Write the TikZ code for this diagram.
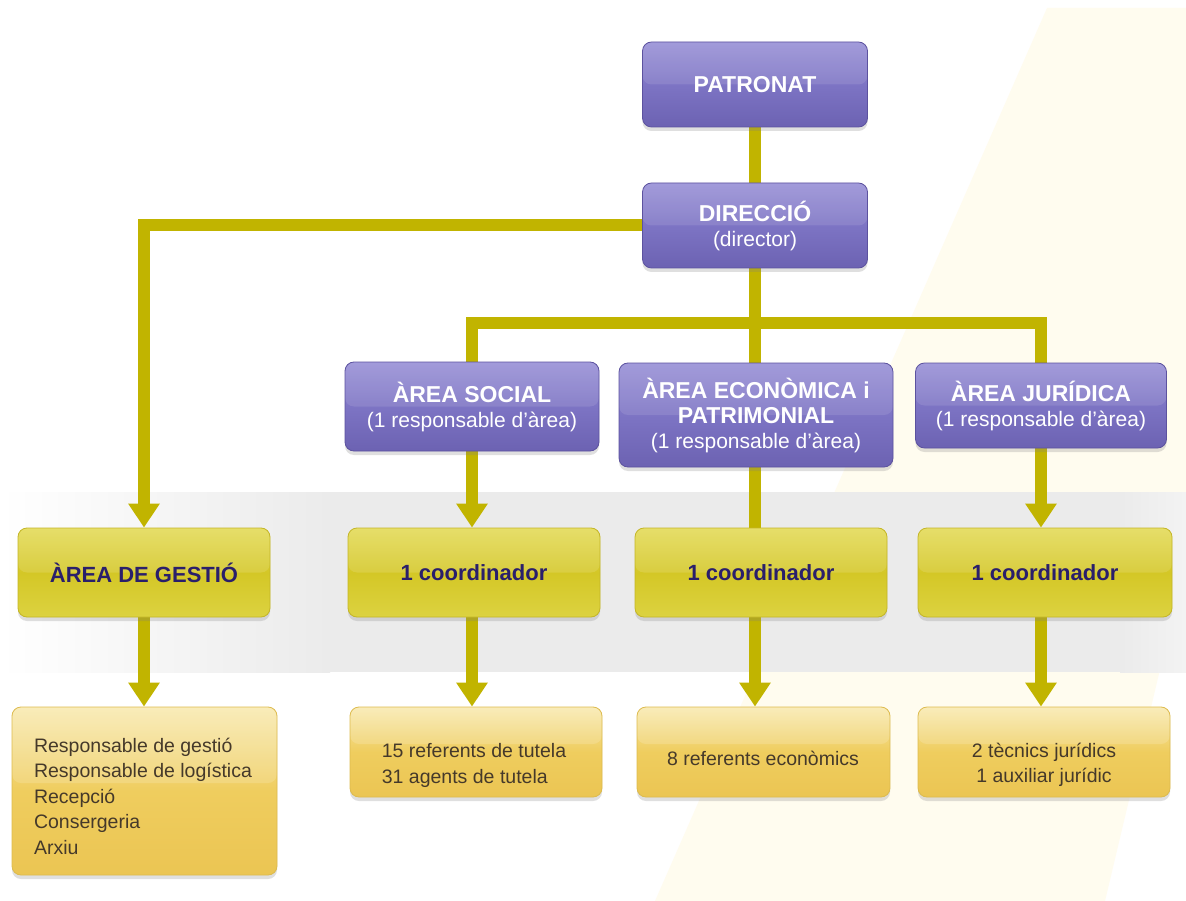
\documentclass[tikz,border=0pt]{standalone}
\usepackage{fontspec}
\setmainfont{Liberation Sans}
\usetikzlibrary{arrows.meta,shadows}
\definecolor{connc}{HTML}{C1B400}
\definecolor{pTop}{HTML}{9890D6}
\definecolor{pMid}{HTML}{7D74C4}
\definecolor{pBot}{HTML}{6C62B2}
\definecolor{pEdge}{HTML}{5C529F}
\definecolor{cTop}{HTML}{E3DA55}
\definecolor{cMid}{HTML}{D4C726}
\definecolor{cBot}{HTML}{DCD240}
\definecolor{cEdge}{HTML}{C4B626}
\definecolor{cText}{HTML}{2A1F6B}
\definecolor{bTop}{HTML}{F8E9AE}
\definecolor{bMid}{HTML}{EFCD5E}
\definecolor{bBot}{HTML}{EBC553}
\definecolor{bEdge}{HTML}{DDBB4E}
\definecolor{bText}{HTML}{45392A}
\definecolor{bandgrey}{HTML}{EBEBEB}
\definecolor{cream}{HTML}{FFFCEF}
\pgfdeclarelayer{bg}
\pgfsetlayers{bg,main}
\tikzset{
  conn/.style={draw=connc, line width=12pt, line join=miter},
  arr/.style={conn, -{Triangle[width=30pt,length=24pt]}},
  boxbase/.style={rounded corners=9pt, line width=0.8pt, inner sep=0pt, align=center,
    drop shadow={shadow xshift=0pt, shadow yshift=-4pt, opacity=0.25}},
  pbox/.style={boxbase, draw=pEdge, top color=pTop, bottom color=pBot, middle color=pMid,
    text=white, font=\fontsize{23}{25}\selectfont\bfseries,
    path picture={\fill[white,opacity=0.10] (path picture bounding box.north west) rectangle (path picture bounding box.east);}},
  cbox/.style={boxbase, draw=cEdge, top color=cTop, bottom color=cBot, middle color=cMid,
    text=cText, font=\fontsize{22}{26}\selectfont\bfseries,
    minimum width=252pt, minimum height=89pt,
    path picture={\fill[white,opacity=0.12] (path picture bounding box.north west) rectangle (path picture bounding box.east);}},
  bbox/.style={boxbase, draw=bEdge, top color=bTop, bottom color=bBot, middle color=bMid,
    path picture={\fill[white,opacity=0.15] (path picture bounding box.north west) rectangle ([yshift=8pt]path picture bounding box.east);}},
  btext/.style={text=bText, font=\fontsize{19.5}{25.5}\selectfont, inner sep=0pt}
}
\newcommand{\subt}[1]{{\fontsize{21}{25}\selectfont\mdseries #1}}
\begin{document}
\begin{tikzpicture}[x=1pt,y=-1pt]
\useasboundingbox (0,0) rectangle (1186,901);
% nodes
\node[pbox, minimum width=225pt, minimum height=85pt] (pat) at (755,84.5) {PATRONAT};
\node[pbox, minimum width=225pt, minimum height=85pt] (dir) at (755,225.5) {DIRECCIÓ\\\subt{(director)}};
\node[pbox, minimum width=254pt, minimum height=89pt] (soc) at (472,406.5) {ÀREA SOCIAL\\\subt{(1 responsable d'àrea)}};
\node[pbox, minimum width=274pt, minimum height=104pt] (eco) at (756,415) {ÀREA ECONÒMICA i\\PATRIMONIAL\\\subt{(1 responsable d'àrea)}};
\node[pbox, minimum width=251pt, minimum height=85pt] (jur) at (1041,405.5) {ÀREA JURÍDICA\\\subt{(1 responsable d'àrea)}};

\node[cbox] (gco) at (144,572.5) {ÀREA DE GESTIÓ};
\node[cbox] (sco) at (474,572.5) {1 coordinador};
\node[cbox] (eco2) at (761,572.5) {1 coordinador};
\node[cbox, minimum width=254pt] (jco) at (1045,572.5) {1 coordinador};

\node[bbox, minimum width=265pt, minimum height=168pt] (gbo) at (144.5,791) {};
\node[bbox, minimum width=252pt, minimum height=90pt] (sbo) at (476,752) {};
\node[bbox, minimum width=253pt, minimum height=90pt] (ebo) at (763.5,752) {};
\node[bbox, minimum width=252pt, minimum height=90pt] (jbo) at (1044,752) {};

\node[btext, align=left] (gbt) at (143,796) {Responsable de gestió\\Responsable de logística\\Recepció\\Consergeria\\Arxiu};
\node[btext, align=left] (sbt) at (474,765.5) {15 referents de tutela\\31 agents de tutela};
\node[btext, align=center] (ebt) at (763,758) {8 referents econòmics};
\node[btext, align=center] (jbt) at (1044,765) {2 tècnics jurídics\\1 auxiliar jurídic};

\coordinate (bar) at (755,323);

\begin{pgfonlayer}{bg}
\fill[white] (0,0) rectangle (1186,901);
\fill[cream] (1047,8) -- (1186,8) -- (1186,560) -- (1105,901) -- (655,901) -- cycle;
\shade[left color=white, right color=bandgrey] (0,492) rectangle (330,672);
\fill[bandgrey] (330,492) rectangle (1120,672);
\shade[left color=bandgrey, right color=white!40!bandgrey] (1120,492) rectangle (1186,672);
% connectors
\draw[conn] (pat.south) -- (dir.north);
\draw[arr] (dir.west) -| (gco.north);
\draw[conn] (dir.south) -- (eco.north -| dir.south);
\draw[conn] (soc.north) |- (bar) -| (jur.north);
\draw[arr] (soc.south) -- (soc.south |- sco.north);
\draw[conn] (eco.south -| dir.south) -- (eco2.north -| dir.south);
\draw[arr] (jur.south) -- (jur.south |- jco.north);
\draw[arr] (gco.south) -- (gco.south |- gbo.north);
\draw[arr] (sco.south -| soc.south) -- (sbo.north -| soc.south);
\draw[arr] (eco2.south -| dir.south) -- (ebo.north -| dir.south);
\draw[arr] (jco.south -| jur.south) -- (jbo.north -| jur.south);
\end{pgfonlayer}
\end{tikzpicture}
\end{document}
